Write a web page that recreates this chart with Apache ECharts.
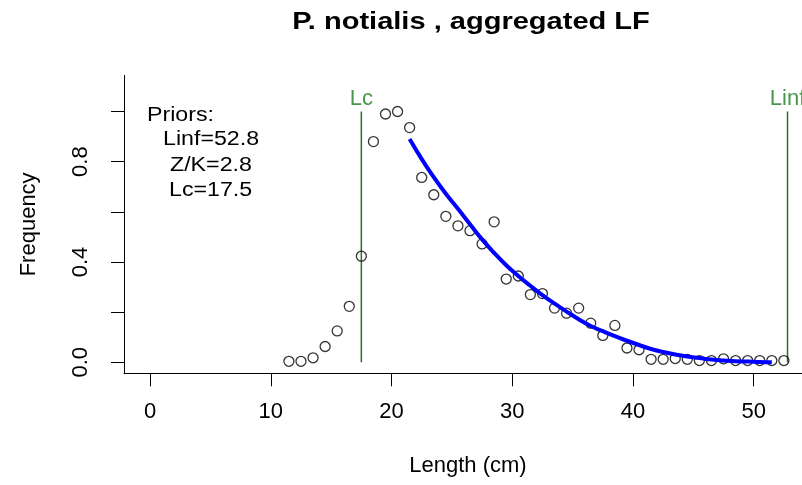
<!DOCTYPE html>
<html>
<head>
<meta charset="utf-8">
<title>P. notialis , aggregated LF</title>
<script src="https://cdn.jsdelivr.net/npm/echarts@6/dist/echarts.min.js"></script>
<style>
    html, body { margin: 0; padding: 0; background: #fff; }
    #main { width: 802px; height: 485px; }
</style>
</head>
<body>
<div id="main"></div>
<script>
// length classes (cm) and observed relative frequency
var lengths = [11.5, 12.5, 13.5, 14.5, 15.5, 16.5, 17.5, 18.5, 19.5, 20.5,
    21.5, 22.5, 23.5, 24.5, 25.5, 26.5, 27.5, 28.5, 29.5, 30.5,
    31.5, 32.5, 33.5, 34.5, 35.5, 36.5, 37.5, 38.5, 39.5, 40.5,
    41.5, 42.5, 43.5, 44.5, 45.5, 46.5, 47.5, 48.5, 49.5, 50.5,
    51.5, 52.5];
var freq = [0.004, 0.004, 0.018, 0.063, 0.125, 0.223, 0.423, 0.88, 0.99, 1.0,
    0.936, 0.737, 0.668, 0.582, 0.544, 0.525, 0.472, 0.56, 0.332, 0.344,
    0.27, 0.274, 0.216, 0.196, 0.216, 0.156, 0.107, 0.147, 0.057, 0.05,
    0.012, 0.012, 0.015, 0.012, 0.007, 0.007, 0.014, 0.007, 0.007, 0.007,
    0.007, 0.007];

// fitted curve (blue line)
var fitLengths = [21.5, 22.5, 23.5, 24.5, 25.5, 26.5, 27.5, 28.5, 29.5, 30.5,
    31.5, 32.5, 33.5, 34.5, 35.5, 36.5, 37.5, 38.5, 39.5, 40.5,
    41.5, 42.5, 43.5, 44.5, 45.5, 46.5, 47.5, 48.5, 49.5, 50.5, 51.5];
var fitFreq = [0.89, 0.81, 0.738, 0.672, 0.612, 0.55, 0.49, 0.436, 0.387, 0.344,
    0.305, 0.268, 0.234, 0.202, 0.172, 0.145, 0.124, 0.104, 0.086, 0.069,
    0.053, 0.041, 0.031, 0.023, 0.017, 0.011, 0.007, 0.004, 0.003, 0.001, 0.0];

// priors
var linf = 52.8;
var zk = 2.8;
var lc = 17.5;

// ticks
var xTicks = [0, 10, 20, 30, 40, 50];
var yTicks = [0, 0.2, 0.4, 0.6, 0.8, 1.0];
var yLabels = [0, 0.4, 0.8];

var font = 'Liberation Sans, Arial, sans-serif';
var green = '#1d7a1d';

var points = lengths.map(function (x, i) { return [x, freq[i]]; });
var fit = fitLengths.map(function (x, i) { return [x, fitFreq[i]]; });

var myChart = echarts.init(document.getElementById('main'));

var option = {
    animation: false,
    backgroundColor: '#fff',
    grid: {
        left: 124,
        right: 0,
        top: 75.4,
        bottom: 111.7
    },
    xAxis: {
        type: 'value',
        min: -2.16,
        max: 54.0,
        name: 'Length (cm)',
        nameLocation: 'middle',
        nameGap: 82,
        nameTextStyle: { color: '#000', fontSize: 22, fontFamily: font, padding: [0, 0, 0, 10] },
        axisLine: { show: true, onZero: false, lineStyle: { color: '#000', width: 1 } },
        axisTick: { show: true, length: 13, customValues: xTicks, lineStyle: { color: '#000', width: 1 } },
        axisLabel: { customValues: xTicks, margin: 28, color: '#000', fontSize: 22, fontFamily: font },
        splitLine: { show: false }
    },
    yAxis: {
        type: 'value',
        min: -0.0439,
        max: 1.144,
        name: 'Frequency',
        nameLocation: 'middle',
        nameRotate: 90,
        nameGap: 84,
        nameTextStyle: { color: '#000', fontSize: 22, fontFamily: font },
        axisLine: { show: true, onZero: false, lineStyle: { color: '#000', width: 1 } },
        axisTick: { show: true, length: 13, customValues: yTicks, lineStyle: { color: '#000', width: 1 } },
        axisLabel: {
            customValues: yLabels,
            rotate: 90,
            margin: 32,
            color: '#000',
            fontSize: 22,
            fontFamily: font,
            formatter: function (v) { return v.toFixed(1); }
        },
        splitLine: { show: false }
    },
    graphic: [
        // title
        { type: 'text', x: 471, y: 22, scaleX: 1.21, style: { text: 'P. notialis , aggregated LF', fill: '#000', font: 'bold 24px ' + font, textAlign: 'center', textVerticalAlign: 'middle' } },
        // priors box
        { type: 'text', x: 147, y: 115, scaleX: 1.16, style: { text: 'Priors:', fill: '#000', font: '20px ' + font, textVerticalAlign: 'middle' } },
        { type: 'text', x: 163, y: 139.5, scaleX: 1.16, style: { text: 'Linf=' + linf, fill: '#000', font: '20px ' + font, textVerticalAlign: 'middle' } },
        { type: 'text', x: 170, y: 165, scaleX: 1.16, style: { text: 'Z/K=' + zk, fill: '#000', font: '20px ' + font, textVerticalAlign: 'middle' } },
        { type: 'text', x: 169, y: 190, scaleX: 1.16, style: { text: 'Lc=' + lc, fill: '#000', font: '20px ' + font, textVerticalAlign: 'middle' } }
    ],
    series: [
        // Lc line
        {
            type: 'line',
            data: [[lc, 0], [lc, 1]],
            symbol: 'none',
            lineStyle: { color: green, width: 1.5 },
            z: 1
        },
        // Linf line
        {
            type: 'line',
            data: [[linf, 0], [linf, 1]],
            symbol: 'none',
            lineStyle: { color: green, width: 1.5 },
            z: 1
        },
        // line labels
        {
            type: 'scatter',
            data: [[lc, 1, 'Lc'], [linf, 1, 'Linf']],
            symbolSize: 0,
            label: {
                show: true,
                position: 'top',
                distance: 2,
                color: green,
                fontSize: 22,
                fontFamily: font,
                formatter: function (p) { return p.data[2]; }
            },
            z: 2
        },
        // observed frequencies
        {
            type: 'scatter',
            data: points,
            symbol: 'circle',
            symbolSize: 10,
            itemStyle: { color: 'rgba(0,0,0,0)', borderColor: '#000', borderWidth: 1.3 },
            z: 3
        },
        // fitted curve
        {
            type: 'line',
            data: fit,
            smooth: true,
            symbol: 'none',
            lineStyle: { color: '#0000ff', width: 4 },
            z: 4
        }
    ]
};

myChart.setOption(option);
</script>
</body>
</html>
